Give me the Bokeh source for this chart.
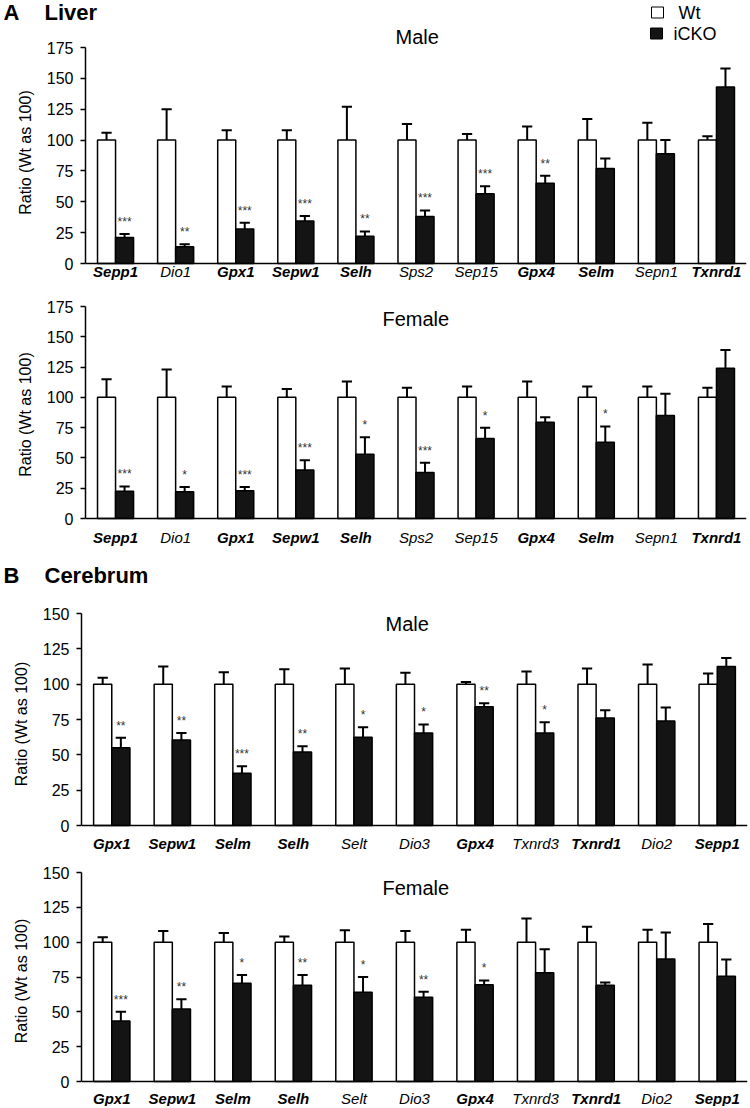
from bokeh.plotting import figure
from bokeh.layouts import column
from bokeh.models import Range1d, FixedTicker, Span
from bokeh.core.properties import value
from bokeh.embed import file_html
from bokeh.resources import INLINE

FONT = "Liberation Sans"
W = 750

# ---------------- data ----------------
liver_genes = ["Sepp1", "Dio1", "Gpx1", "Sepw1", "Selh", "Sps2", "Sep15", "Gpx4", "Selm", "Sepn1", "Txnrd1"]
liver_bold = [1, 0, 1, 1, 1, 0, 0, 1, 1, 0, 1]

liver_m_wt = [100] * 11
liver_m_wt_err = [6, 25, 8, 8, 27, 13, 5, 11, 17, 14, 3]
liver_m_ko = [21, 13.5, 28, 34.5, 22, 38, 56.5, 65, 77, 89, 143]
liver_m_ko_err = [3, 2, 5, 4, 4, 5, 6, 6, 8, 11, 15]
liver_m_sig = ["***", "**", "***", "***", "**", "***", "***", "**", "", "", ""]

liver_f_wt = [100] * 11
liver_f_wt_err = [15, 23, 9, 7, 13, 8, 9, 13, 9, 9, 8]
liver_f_ko = [22.5, 22, 23, 40, 53, 38, 66, 79.5, 63, 85, 124]
liver_f_ko_err = [4, 4, 3, 8, 14, 8, 9, 4, 13, 18, 15]
liver_f_sig = ["***", "*", "***", "***", "*", "***", "*", "", "*", "", ""]

cer_genes = ["Gpx1", "Sepw1", "Selm", "Selh", "Selt", "Dio3", "Gpx4", "Txnrd3", "Txnrd1", "Dio2", "Sepp1"]
cer_bold = [1, 1, 1, 1, 0, 0, 1, 0, 1, 0, 1]

cer_m_wt = [100] * 11
cer_m_wt_err = [4.5, 12.5, 8.5, 10.5, 11, 8, 1.5, 9, 11, 14, 7.5]
cer_m_ko = [55, 60.5, 37, 52, 62.5, 65.5, 84, 65.5, 76, 74, 112.5]
cer_m_ko_err = [7, 5, 5, 4, 7, 6, 2.5, 7.5, 5.5, 9.5, 6]
cer_m_sig = ["**", "**", "***", "**", "*", "*", "**", "*", "", "", ""]

cer_f_wt = [100] * 11
cer_f_wt_err = [3.5, 8, 6.5, 4, 8.5, 8, 9, 17, 11, 9, 13]
cer_f_ko = [43.5, 52, 70.5, 69, 64, 60.5, 69.5, 78, 69, 88, 75.5]
cer_f_ko_err = [6.5, 7, 6, 7.5, 11, 4, 3, 17, 2, 19, 12]
cer_f_sig = ["***", "**", "*", "**", "*", "**", "*", "", "", "", ""]

liver_ticks = [0, 25, 50, 75, 100, 125, 150, 175]
cer_ticks = [0, 25, 50, 75, 100, 125, 150]

series_names = ["Wt", "iCKO"]
series_colors = ["white", "#141414"]
y_label = "Ratio (Wt as 100)"


def header(H):
    """A strip for section headings; its data units are pixels from its top-left corner."""
    h = figure(width=W, height=H, x_range=Range1d(0, W), y_range=Range1d(H, 0),
               output_backend="svg", toolbar_location=None,
               x_axis_location=None, y_axis_location=None,
               min_border_left=0, min_border_right=0, min_border_top=0, min_border_bottom=0)
    h.outline_line_color = None
    h.grid.visible = False
    h.frame_align = False
    return h


def heading(fig, letter, name, y):
    fig.text(x=[3, 44], y=[y, y], text=[letter, name], text_align="left", text_baseline="middle",
             text_font=value(FONT), text_font_size="22px", text_font_style="bold", text_color="black")


def panel(genes, bold, wt, wt_err, ko, ko_err, sig, ticks, T, H, P0, Ptop, FL, FR, label_py):
    ymax = ticks[-1]
    s = (P0 - Ptop) / ymax
    n = len(genes)

    def xd(px):
        return (px - FL) / (FR - FL) * n

    def yd(py):
        return (P0 - py) / s

    p = figure(width=W, height=H,
               x_range=Range1d(0, n), y_range=Range1d(yd(T + H), yd(T)),
               output_backend="svg", toolbar_location=None, x_axis_location=None,
               min_border_left=FL, min_border_right=W - FR,
               min_border_top=0, min_border_bottom=0)
    p.outline_line_color = None
    p.grid.visible = False
    p.frame_align = False

    ax = p.yaxis[0]
    ax.ticker = FixedTicker(ticks=ticks)
    ax.bounds = (0, ymax)
    ax.minor_tick_line_color = None
    ax.major_tick_in = 0
    ax.major_tick_out = 5
    ax.major_tick_line_width = 1.5
    ax.axis_line_width = 1.5
    ax.axis_line_color = "black"
    ax.major_tick_line_color = "black"
    ax.major_label_text_font = FONT
    ax.major_label_text_font_size = "16px"
    ax.major_label_text_color = "black"
    ax.major_label_standoff = 7
    ax.axis_label = y_label
    ax.axis_label_text_font = FONT
    ax.axis_label_text_font_size = "16px"
    ax.axis_label_text_font_style = "normal"
    ax.axis_label_text_color = "black"
    ax.axis_label_standoff = 10

    p.add_layout(Span(location=0, dimension="width", line_color="black", line_width=1.5))

    xc = [i + 0.5 for i in range(n)]
    xw = [x - 0.15 for x in xc]
    xk = [x + 0.15 for x in xc]

    # error bars (upper only)
    wt_top = [v + e for v, e in zip(wt, wt_err)]
    ko_top = [v + e for v, e in zip(ko, ko_err)]
    for xs, base, top in ((xw, wt, wt_top), (xk, ko, ko_top)):
        p.segment(x0=xs, y0=base, x1=xs, y1=top, line_color="black", line_width=2)
        p.segment(x0=[x - 0.085 for x in xs], y0=top, x1=[x + 0.085 for x in xs], y1=top,
                  line_color="black", line_width=2)

    p.vbar(x=xw, top=wt, bottom=0, width=0.3, fill_color=series_colors[0], line_color="black", line_width=1.5)
    p.vbar(x=xk, top=ko, bottom=0, width=0.3, fill_color=series_colors[1], line_color="black", line_width=1.5)

    # significance stars
    p.text(x=xk, y=[t + 12 / s for t in ko_top], text=sig, text_align="center", text_baseline="middle",
           text_font=value(FONT), text_font_size="12px", text_color="#333333")

    # gene labels (bold italic / italic)
    ly = yd(label_py)
    for flag, style in ((1, "bold italic"), (0, "italic")):
        xs = [x for x, b in zip(xc, bold) if b == flag]
        ts = [g for g, b in zip(genes, bold) if b == flag]
        p.text(x=xs, y=[ly] * len(xs), text=ts, text_align="center", text_baseline="middle",
               text_font=value(FONT), text_font_size="15px", text_font_style=style, text_color="black")
    return p, xd, yd


def subtitle(p, xd, yd, txt, px, py):
    p.text(x=[xd(px)], y=[yd(py)], text=[txt], text_align="left", text_baseline="middle",
           text_font=value(FONT), text_font_size="20px", text_color="black")


# ---- header A (with first legend entry) ----
hA = header(24)
heading(hA, "A", "Liver", 12)
hA.rect(x=[657], y=[12], width=12, height=11, fill_color=series_colors[0], line_color="black", line_width=1)
hA.text(x=[678], y=[12], text=[series_names[0]], text_align="left", text_baseline="middle",
        text_font=value(FONT), text_font_size="18px", text_color="black")

# ---- Liver male ----
p1, xd1, yd1 = panel(liver_genes, liver_bold, liver_m_wt, liver_m_wt_err, liver_m_ko, liver_m_ko_err,
                     liver_m_sig, liver_ticks, T=24, H=256, P0=263, Ptop=47, FL=85, FR=746, label_py=271)
subtitle(p1, xd1, yd1, "Male", 395, 36)
p1.rect(x=[xd1(656)], y=[yd1(33)], width=12, height=11, width_units="screen", height_units="screen",
        fill_color=series_colors[1], line_color="black", line_width=1)
p1.text(x=[xd1(673)], y=[yd1(33)], text=[series_names[1]], text_align="left", text_baseline="middle",
        text_font=value(FONT), text_font_size="18px", text_color="black")

# ---- Liver female ----
p2, xd2, yd2 = panel(liver_genes, liver_bold, liver_f_wt, liver_f_wt_err, liver_f_ko, liver_f_ko_err,
                     liver_f_sig, liver_ticks, T=280, H=268, P0=518, Ptop=306, FL=85, FR=746, label_py=537)
subtitle(p2, xd2, yd2, "Female", 382, 318)

# ---- header B ----
hB = header(44)
heading(hB, "B", "Cerebrum", 27)

# ---- Cerebrum male ----
p3, xd3, yd3 = panel(cer_genes, cer_bold, cer_m_wt, cer_m_wt_err, cer_m_ko, cer_m_ko_err,
                     cer_m_sig, cer_ticks, T=592, H=263, P0=825, Ptop=613, FL=81, FR=747, label_py=843)
subtitle(p3, xd3, yd3, "Male", 385, 623)

# ---- Cerebrum female ----
p4, xd4, yd4 = panel(cer_genes, cer_bold, cer_f_wt, cer_f_wt_err, cer_f_ko, cer_f_ko_err,
                     cer_f_sig, cer_ticks, T=855, H=251, P0=1081, Ptop=872, FL=81, FR=747, label_py=1098)
subtitle(p4, xd4, yd4, "Female", 382, 887)

layout = column(hA, p1, p2, hB, p3, p4, spacing=0)
open("out.html", "w").write(file_html(layout, INLINE))
